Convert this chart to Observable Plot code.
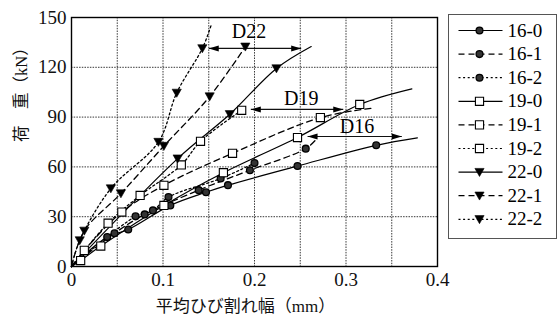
<!DOCTYPE html>
<html>
<head>
<meta charset="utf-8">
<script src="https://cdn.jsdelivr.net/npm/d3@7"></script>
<script src="https://cdn.jsdelivr.net/npm/@observablehq/plot@0.6"></script>
<style>
  body { margin: 0; background: #fff; }
  #wrap { position: relative; width: 558px; height: 322px; }
  #wrap svg, #wrap svg text { font-family: "Liberation Serif", "DejaVu Serif", "Noto Sans CJK JP", serif !important; }
  #legend { position: absolute; left: 448px; top: 14px; border: 1px solid #555; background: #fff; line-height: 0; }
</style>
</head>
<body>
<div id="wrap"></div>
<script>
// Load vs. average crack width, bars D16 / D19 / D22, three specimens each.
const FONT = '"Liberation Serif", "DejaVu Serif", "Noto Sans CJK JP", serif';

const xTicks = [0, 0.1, 0.2, 0.3, 0.4];
const xGrid = [0.05, 0.1, 0.15, 0.2, 0.25, 0.3, 0.35];
const yTicks = [0, 30, 60, 90, 120, 150];
const yGrid = [30, 60, 90, 120];

const seriesNames = ["16-0", "16-1", "16-2", "19-0", "19-1", "19-2", "22-0", "22-1", "22-2"];

// every curve starts from the unloaded state
const origin = [0, 0];

// measured points (crack width mm, load kN), drawn with markers
const pts16_0 = [[0.039, 17.7], [0.062, 22.3], [0.108, 36.8], [0.147, 44.7], [0.171, 49.0], [0.247, 60.5], [0.333, 73.0]];
const pts16_1 = [[0.047, 20.0], [0.080, 31.4], [0.139, 46.0], [0.195, 58.0], [0.256, 71.0]];
const pts16_2 = [[0.070, 30.2], [0.089, 33.8], [0.106, 41.8], [0.163, 53.0], [0.200, 62.3]];
const pts19_0 = [[0.010, 3.6], [0.032, 12.3], [0.101, 36.8], [0.166, 56.5], [0.247, 77.7], [0.315, 97.6]];
const pts19_1 = [[0.014, 9.7], [0.055, 32.8], [0.101, 48.9], [0.176, 68.2], [0.272, 89.7]];
const pts19_2 = [[0.040, 26.1], [0.075, 42.8], [0.120, 61.2], [0.141, 75.4], [0.186, 94.1]];
const pts22_0 = [[0.116, 65.0], [0.173, 91.7], [0.224, 119.3]];
const pts22_1 = [[0.014, 21.5], [0.054, 44.0], [0.101, 72.6], [0.151, 102.4], [0.190, 132.4]];
const pts22_2 = [[0.009, 15.7], [0.043, 47.0], [0.095, 75.0], [0.115, 104.6], [0.143, 131.4]];

// curve ends beyond the last marker (no marker drawn)
const end16_0 = [0.378, 77.5];
const end16_1 = [0.268, 77.0];
const end19_0 = [0.372, 107.0];
const end19_1 = [0.330, 95.5];
const end22_0 = [0.262, 132.5];
const end22_2 = [0.153, 146.0];

const seriesPts = [pts16_0, pts16_1, pts16_2, pts19_0, pts19_1, pts19_2, pts22_0, pts22_1, pts22_2];
const seriesEnds = [end16_0, end16_1, null, end19_0, end19_1, null, end22_0, null, end22_2];

// crack width spread at the peak load of each bar size
const dimLabels = ["D22", "D19", "D16"];
const dimLoad = [131.4, 94.6, 78.3];
const dimFrom = [0.150, 0.196, 0.258];
const dimTo = [0.251, 0.297, 0.361];
const dimLabelX = [0.194, 0.251, 0.312];
const dimLabelY = [141.5, 101.2, 84.1];

// ---- symbols ----
const rOf = size => Math.sqrt(size / Math.PI);
const triangleDown = {
  draw(ctx, size) {
    const r = rOf(size);
    ctx.moveTo(-r, -0.8 * r);
    ctx.lineTo(r, -0.8 * r);
    ctx.lineTo(0, 0.95 * r);
    ctx.closePath();
  }
};
const headLeft = {
  draw(ctx, size) {
    const r = rOf(size);
    ctx.moveTo(0, 0);
    ctx.lineTo(2 * r, -0.6 * r);
    ctx.lineTo(2 * r, 0.6 * r);
    ctx.closePath();
  }
};
const headRight = {
  draw(ctx, size) {
    const r = rOf(size);
    ctx.moveTo(0, 0);
    ctx.lineTo(-2 * r, -0.6 * r);
    ctx.lineTo(-2 * r, 0.6 * r);
    ctx.closePath();
  }
};

const dashOf = {"0": null, "1": "6,4", "2": "2,2.6"};
const markerStyle = {
  "16": {symbol: "circle", r: 3.4, fill: "#333", stroke: "#000", strokeWidth: 1.3},
  "19": {symbol: "square", r: 4.6, fill: "#fff", stroke: "#000", strokeWidth: 1.1},
  "22": {symbol: triangleDown, r: 4.6, fill: "#000", stroke: "#000", strokeWidth: 0.6}
};

// ---- table ----
const rows = [];
seriesNames.forEach((name, i) => {
  rows.push({series: name, x: origin[0], y: origin[1], marked: false});
  seriesPts[i].forEach(([x, y]) => rows.push({series: name, x, y, marked: true}));
  if (seriesEnds[i]) rows.push({series: name, x: seriesEnds[i][0], y: seriesEnds[i][1], marked: false});
});
const dims = dimLabels.map((label, i) => ({
  label, y: dimLoad[i], x1: dimFrom[i], x2: dimTo[i], lx: dimLabelX[i], ly: dimLabelY[i]
}));

const lineMarks = ["0", "1", "2"].map(k => Plot.line(rows.filter(d => d.series.endsWith("-" + k)), {
  x: "x", y: "y", z: "series",
  curve: "catmull-rom",
  stroke: "#000",
  strokeWidth: k === "0" ? 1.2 : 1.3,
  strokeDasharray: dashOf[k]
}));
const dotMarks = ["16", "19", "22"].map(g => Plot.dot(rows.filter(d => d.marked && d.series.startsWith(g)), {
  x: "x", y: "y", ...markerStyle[g]
}));

const chart = Plot.plot({
  width: 558,
  height: 322,
  marginLeft: 71,
  marginRight: 121,
  marginTop: 17,
  marginBottom: 56,
  style: {fontFamily: FONT, fontSize: "19px", color: "#111", background: "transparent"},
  x: {domain: [0, 0.4], label: null},
  y: {domain: [0, 150], label: null},
  marks: [
    Plot.gridX(xGrid, {stroke: "#222", strokeOpacity: 0.9, strokeDasharray: "1.5,1.2", strokeWidth: 1}),
    Plot.gridY(yGrid, {stroke: "#222", strokeOpacity: 0.9, strokeDasharray: "1.5,1.2", strokeWidth: 1}),
    Plot.axisX(xTicks, {tickSize: 0, tickPadding: 6, tickFormat: d => d === 0 ? "0" : d.toFixed(1), label: null}),
    Plot.axisY(yTicks, {tickSize: 0, tickPadding: 5, label: null}),
    ...lineMarks,
    // dimension arrows
    Plot.link(dims, {x1: "x1", x2: "x2", y1: "y", y2: "y", stroke: "#111", strokeWidth: 1.2}),
    Plot.dot(dims, {x: "x1", y: "y", symbol: headLeft, r: 5, fill: "#000", stroke: "none"}),
    Plot.dot(dims, {x: "x2", y: "y", symbol: headRight, r: 5, fill: "#000", stroke: "none"}),
    ...dotMarks,
    Plot.text(dims, {x: "lx", y: "ly", text: "label", fontSize: 20, fill: "#000"}),
    Plot.frame({stroke: "#000", strokeWidth: 1.4}),
    Plot.text(["荷　重（kN）"], {frameAnchor: "left", rotate: -90, dx: -50, fontSize: 16.5, fill: "#111"}),
    Plot.text(["平均ひび割れ幅（mm）"], {frameAnchor: "bottom", dy: 45, dx: -9, fontSize: 17, fill: "#111"})
  ]
});
document.getElementById("wrap").appendChild(chart);

// ---- legend ----
const legendRows = seriesNames.map((name, i) => ({
  name, row: 15 + i * 23.6, kind: name.slice(-1), group: name.slice(0, 2)
}));
const legend = Plot.plot({
  width: 107,
  height: 223,
  margin: 0,
  style: {fontFamily: FONT, fontSize: "19px", color: "#111", background: "#fff"},
  x: {type: "identity", axis: null},
  y: {type: "identity", axis: null},
  marks: [
    ...["0", "1", "2"].map(k => Plot.link(legendRows.filter(d => d.kind === k), {
      x1: () => 9, x2: () => 53, y1: "row", y2: "row",
      stroke: "#000", strokeWidth: 1.2, strokeDasharray: dashOf[k]
    })),
    ...["16", "19", "22"].map(g => Plot.dot(legendRows.filter(d => d.group === g), {
      x: () => 30, y: "row", ...markerStyle[g]
    })),
    Plot.text(legendRows, {x: () => 58, y: "row", text: "name", textAnchor: "start", fill: "#000", fontSize: 19, letterSpacing: "1px"})
  ]
});
const box = document.createElement("div");
box.id = "legend";
box.appendChild(legend);
document.getElementById("wrap").appendChild(box);
</script>
</body>
</html>
